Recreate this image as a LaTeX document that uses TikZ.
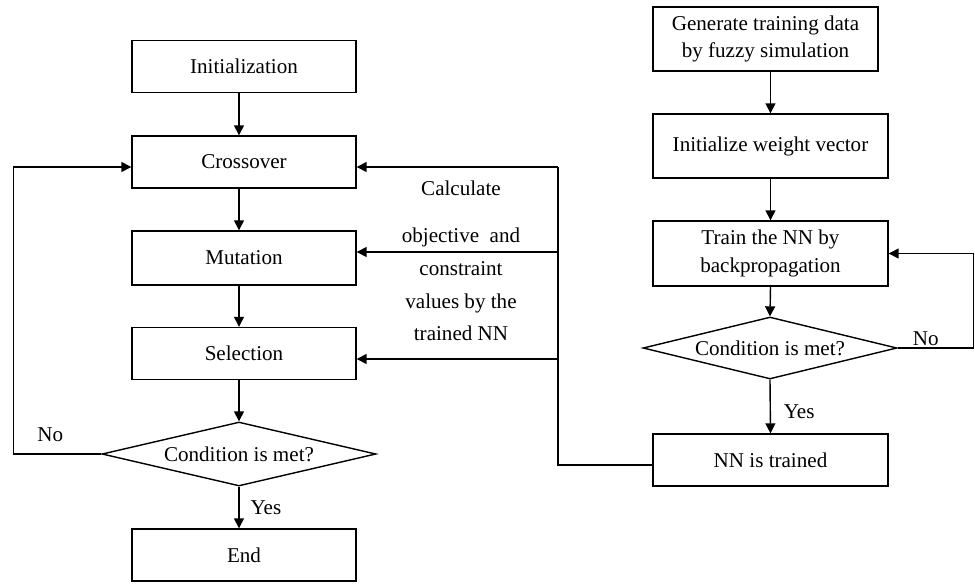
\documentclass[tikz,border=0pt]{standalone}
\usepackage{fontspec}
\setmainfont{Liberation Serif}
\usetikzlibrary{arrows.meta, positioning, shapes.geometric, calc}

\begin{document}
\begin{tikzpicture}[x=0.02cm, y=-0.02cm, line width=0.8pt,
  font=\fontsize{12pt}{15.5pt}\selectfont,
  stepbox/.style={draw, minimum width=4.48cm, minimum height=1.04cm, align=center, inner sep=2pt},
  nnbox/.style={stepbox, minimum width=4.7cm, minimum height=1.28cm},
  test/.style={draw, diamond, inner sep=0pt, aspect=4.2},
  arr/.style={-{Triangle[length=2mm, width=2mm]}}]

\useasboundingbox (0,0) rectangle (975,583);

% Genetic algorithm (left)
\node[stepbox] (init)  at (244,66.5) {Initialization};
\node[stepbox] (cross) at (244,162)  {Crossover};
\node[stepbox, minimum height=1.08cm] (mut) at (244,258) {Mutation};
\node[stepbox] (sel)   at (244,353.5) {Selection};
\node[test, minimum width=5.48cm, minimum height=1.28cm] (cond1) at (239,454) {Condition is met?};
\node[stepbox] (stop)  at (244,555)  {End};

\draw[arr] (cond1.north |- init.south)  -- (cond1.north |- cross.north);
\draw[arr] (cond1.north |- cross.south) -- (cond1.north |- mut.north);
\draw[arr] (cond1.north |- mut.south)   -- (cond1.north |- sel.north);
\draw[arr] (cond1.north |- sel.south)   -- (cond1.north);
\draw[arr] (cond1.south) -- node[right, xshift=0.1cm] {Yes} (cond1.south |- stop.north);

\coordinate (crossin) at ($(cross.west)+(0,5)$);
\draw[arr] (cond1.west) -- node[above, pos=0.58, yshift=0.12cm] {No} ++(-88,0) |- (crossin);

% Neural network training (right)
\node[stepbox, minimum width=4.5cm, minimum height=1.28cm] (gen) at (765.5,39) {Generate training data\\by fuzzy simulation};
\node[nnbox] (initw) at (770.5,146)  {Initialize weight vector};
\node[nnbox, minimum height=1.3cm] (train) at (770.5,253.5) {Train the NN by\\backpropagation};
\node[test, minimum width=5.08cm, minimum height=1.24cm] (cond2) at (770,348) {Condition is met?};
\node[stepbox, minimum width=4.7cm] (nn) at (770.5,460) {NN is trained};

\draw[arr] (initw.north |- gen.south) -- (initw.north);
\draw[arr] (initw.south) -- (train.north);
\draw[arr] (train.south) -- (cond2.north);
\draw[arr] (cond2.south) -- node[right, pos=0.6, xshift=0.14cm] {Yes} (nn.north);
\draw[arr] (cond2.east) -- node[above, pos=0.37, yshift=-0.08cm] {No} ++(76,0) |- (train.east);

% Trained NN feeds the evaluation
\node[align=center, font=\fontsize{12pt}{18.7pt}\selectfont] (calc) at (461,261)
  {Calculate\\[8pt]objective\ \ and\\constraint\\values by the\\trained NN};

\coordinate (bus)    at (558,167);
\coordinate (mutin)  at ($(mut.east)+(0,-6)$);
\coordinate (selin)  at ($(sel.east)+(0,5.5)$);
\coordinate (nnout)  at ($(nn.west)+(0,5)$);
\draw (nnout) -| (bus);
\draw[arr] (bus) -- (bus -| cross.east);
\draw[arr] (mutin -| bus) -- (mutin);
\draw[arr] (selin -| bus) -- (selin);

\end{tikzpicture}
\end{document}
